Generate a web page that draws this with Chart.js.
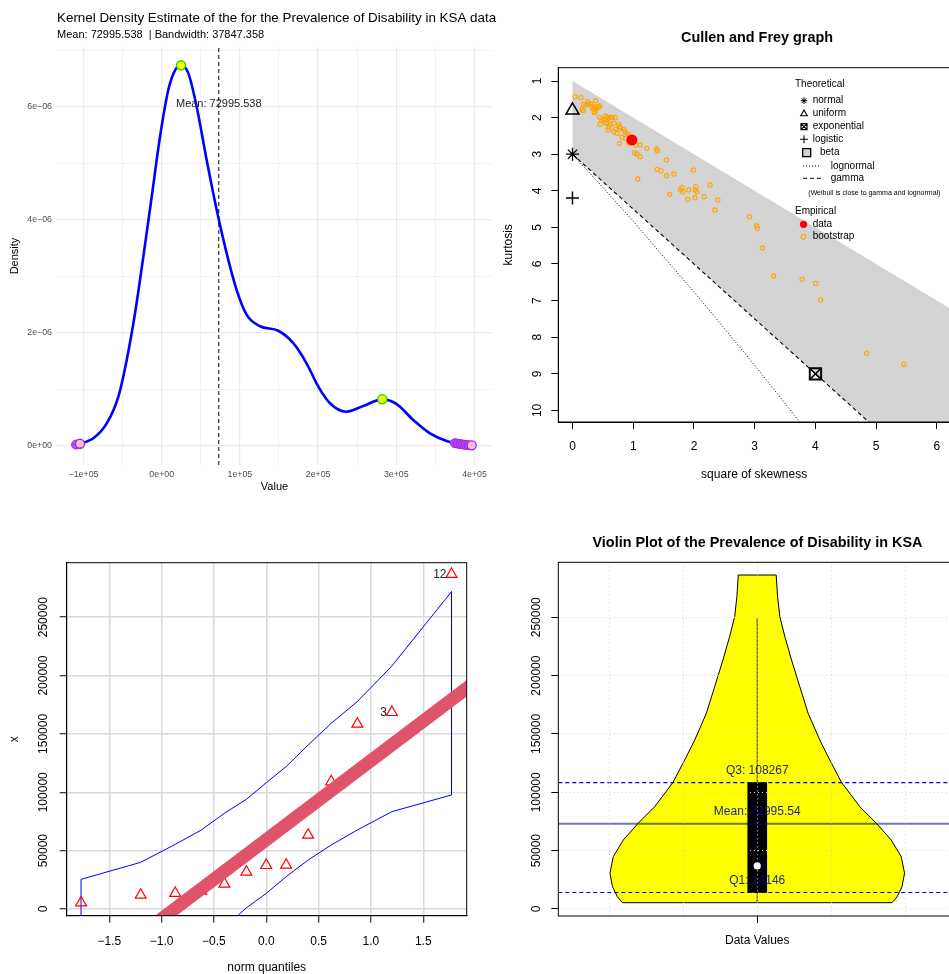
<!DOCTYPE html>
<html>
<head>
  <meta charset="utf-8">
  <title>Prevalence of Disability in KSA - distribution checks</title>
  <script src="https://cdn.jsdelivr.net/npm/chart.js"></script>
  <style>
    body { margin: 0; width: 949px; height: 974px; overflow: hidden; position: relative; background: #fff; }
    canvas { position: absolute; }
  </style>
</head>
<body>
  <canvas id="kde" width="500" height="500" style="left:0;top:0"></canvas>
  <canvas id="cf" width="460" height="500" style="left:500px;top:0"></canvas>
  <canvas id="qq" width="500" height="474" style="left:0;top:500px"></canvas>
  <canvas id="violin" width="460" height="474" style="left:500px;top:500px"></canvas>

  <script>
    const FONT = '"Liberation Sans", Arial, Helvetica, sans-serif';

    // ---- Kernel density panel ----
    const kdeX = [-108000, -87500, -70300, -55500, -44800, -34100, -23500, -12800, -2200, 8400, 17000, 24700, 34000, 44800, 57500, 70300, 83100, 95900, 108700, 125700, 149100, 168300, 185400, 200300, 215200, 235700, 257800, 282100, 300500, 321700, 343100, 364500, 381500, 396400];
    const kdeY = [0.025e-6, 0.136e-6, 0.40e-6, 0.87e-6, 1.52e-6, 2.35e-6, 3.35e-6, 4.41e-6, 5.47e-6, 6.30e-6, 6.65e-6, 6.74e-6, 6.60e-6, 6.00e-6, 5.06e-6, 4.18e-6, 3.41e-6, 2.76e-6, 2.32e-6, 2.12e-6, 2.04e-6, 1.82e-6, 1.46e-6, 1.05e-6, 0.756e-6, 0.607e-6, 0.708e-6, 0.826e-6, 0.743e-6, 0.46e-6, 0.225e-6, 0.088e-6, 0.035e-6, 0.012e-6];
    const kdePeakX = [24700, 282100];
    const kdePeakY = [6.74e-6, 0.826e-6];
    const kdeTailX = [-109500, 375000, 378500, 382000, 385500, 389000, 392500];
    const kdeTailY = [0.025e-6, 0.05e-6, 0.042e-6, 0.034e-6, 0.027e-6, 0.02e-6, 0.015e-6];
    const kdeEndX = [-104500, 396400];
    const kdeEndY = [0.04e-6, 0.012e-6];
    const kdeMean = 72995.538;
    const kdeBandwidth = 37847.358;
    const kdeXTicks = [-100000, 0, 100000, 200000, 300000, 400000];
    const kdeXLabels = ['\u22121e+05', '0e+00', '1e+05', '2e+05', '3e+05', '4e+05'];
    const kdeXMinor = [-50000, 50000, 150000, 250000, 350000];
    const kdeYTicks = [0, 2e-6, 4e-6, 6e-6];
    const kdeYLabels = ['0e+00', '2e\u221206', '4e\u221206', '6e\u221206'];
    const kdeYMinor = [1e-6, 3e-6, 5e-6, 7e-6];
    const kdeXMin = -133900, kdeXMax = 422400, kdeYMin = -0.336e-6, kdeYMax = 7.062e-6;

    // ---- Cullen and Frey panel ----
    const bootSkew2 = [0.043, 0.141, 0.178, 0.222, 0.249, 0.265, 0.303, 0.319, 0.346, 0.368, 0.384, 0.395, 0.427, 0.449, 0.157, 0.178, 0.357, 0.373, 0.449, 0.481, 0.519, 0.546, 0.573, 0.600, 0.627, 0.654, 0.708, 0.454, 0.546, 0.573, 0.600, 0.627, 0.681, 0.708, 0.762, 0.778, 0.589, 0.681, 0.735, 0.789, 0.843, 0.859, 0.897, 0.924, 0.816, 0.870, 0.773, 0.924, 1.005, 1.049, 1.113, 1.222, 1.384, 1.394, 1.022, 1.059, 1.113, 1.546, 1.394, 1.454, 1.546, 1.670, 1.989, 1.075, 2.265, 2.032, 1.800, 1.778, 1.816, 1.913, 2.021, 2.048, 1.600, 1.897, 2.016, 2.167, 2.394, 2.345, 2.913, 3.032, 3.043, 3.124, 3.313, 3.780, 4.005, 4.086, 4.843, 5.455];
    const bootKurt = [1.428, 1.455, 1.637, 1.656, 1.565, 1.628, 1.628, 1.701, 1.774, 1.747, 1.538, 1.701, 1.720, 1.683, 1.774, 1.810, 1.865, 1.838, 1.993, 2.066, 2.047, 1.956, 1.993, 2.020, 1.993, 2.002, 2.002, 2.184, 2.138, 2.157, 2.248, 2.184, 2.157, 2.320, 2.184, 2.248, 2.339, 2.384, 2.430, 2.293, 2.320, 2.384, 2.430, 2.475, 2.539, 2.567, 2.703, 2.703, 2.685, 2.749, 2.749, 2.840, 2.858, 2.903, 2.958, 2.995, 3.067, 3.158, 3.413, 3.450, 3.587, 3.541, 3.432, 3.678, 3.842, 3.887, 3.905, 3.978, 4.024, 3.978, 3.978, 4.024, 4.097, 4.233, 4.188, 4.160, 4.251, 4.525, 4.707, 4.953, 5.026, 5.563, 6.328, 6.420, 6.530, 6.980, 8.440, 8.740];
    const dataSkew2 = [0.978];
    const dataKurt = [2.61];
    const normalPt = [0, 3];
    const uniformPt = [0, 1.8];
    const logisticPt = [0, 4.2];
    const exponentialPt = [4, 9];
    const betaRegionX = [0, 6.5, 6.5, 0, 0];
    const betaRegionY = [1, 7.5, 12.75, 3, 1];
    const gammaX = [0, 6.5];
    const gammaY = [3, 12.75];
    const lognormX = [0, 0.5, 1, 1.5, 2, 2.5, 3, 3.5, 4];
    const lognormY = [3, 3.91, 4.83, 5.8, 6.76, 7.76, 8.77, 9.81, 10.86];
    const cfXTicks = [0, 1, 2, 3, 4, 5, 6];
    const cfXLabels = ['0', '1', '2', '3', '4', '5', '6'];
    const cfYTicks = [1, 2, 3, 4, 5, 6, 7, 8, 9, 10];
    const cfYLabels = ['1', '2', '3', '4', '5', '6', '7', '8', '9', '10'];

    // ---- Normal QQ panel ----
    const qqTheo = [-1.77, -1.2, -0.87, -0.62, -0.4, -0.19, 0, 0.19, 0.4, 0.62, 0.87, 1.2, 1.77];
    const qqSample = [5400, 12000, 13450, 15500, 21400, 31700, 37400, 37700, 63400, 109100, 158500, 168500, 286800];
    const qqIds = ['', '', '', '', '', '', '', '', '', '', '', '3', '12'];
    const qqUpper = [25400, 40000, 55400, 67700, 82000, 94000, 108200, 122000, 140500, 159100, 177700, 208200, 271900];
    const qqLower = [-160000, -90000, -55000, -33000, -16000, 1000, 13400, 27700, 42000, 54800, 67700, 83400, 97700];
    const qqLineX = [-1.95, 1.95];
    const qqLineY = [-72750, 191500];
    const qqXTicks = [-1.5, -1, -0.5, 0, 0.5, 1, 1.5];
    const qqXLabels = ['\u22121.5', '\u22121.0', '\u22120.5', '0.0', '0.5', '1.0', '1.5'];
    const valueTicks = [0, 50000, 100000, 150000, 200000, 250000];
    const valueLabels = ['0', '50000', '100000', '150000', '200000', '250000'];

    // ---- Violin panel ----
    const violinY = [5400, 10500, 19100, 30600, 44800, 59100, 73400, 87700, 108600, 127700, 144800, 167700, 190500, 213400, 233300, 250500, 267600, 286200];
    const violinHalfWidth = [0.364, 0.378, 0.391, 0.398, 0.389, 0.362, 0.322, 0.277, 0.2275, 0.196, 0.169, 0.1375, 0.115, 0.0927, 0.0747, 0.061, 0.055, 0.0512];
    const violinCategories = ['Data Values'];
    const violinCatX = [1];
    const violinGridX = [0.6, 0.8, 1, 1.2, 1.4];
    const vQ1 = 14146, vQ3 = 108267, vMean = 72995.54, vMedian = 36900;
    const vWhisker = [5400, 249448];

    Chart.defaults.font.family = FONT;
    Chart.defaults.color = '#000';
    Chart.defaults.plugins.legend.display = false;
    Chart.defaults.plugins.tooltip.enabled = false;

    const pts = (xs, ys) => xs.map((x, i) => ({ x, y: ys[i] }));
    const base = { responsive: false, animation: false, events: [] };
    const tickIn = (c, list) => !!(c.tick && list.includes(c.tick.value));

    function txt(ctx, s, x, y, font, opt = {}) {
      ctx.save();
      ctx.font = font;
      ctx.fillStyle = opt.color || '#000';
      ctx.textAlign = opt.align || 'center';
      ctx.textBaseline = opt.baseline || 'middle';
      ctx.translate(x, y);
      if (opt.rotate) ctx.rotate(opt.rotate);
      ctx.fillText(s, 0, 0);
      ctx.restore();
    }

    function mark(ctx, style, x, y, r, color, lw, fill) {
      ctx.save();
      ctx.strokeStyle = color; ctx.lineWidth = lw; ctx.fillStyle = fill || color;
      ctx.beginPath();
      if (style === 'circle') ctx.arc(x, y, r, 0, Math.PI * 2);
      if (style === 'triangle') { ctx.moveTo(x, y - r); ctx.lineTo(x + r * 0.866, y + r * 0.5); ctx.lineTo(x - r * 0.866, y + r * 0.5); ctx.closePath(); }
      if (style === 'rect' || style === 'rectx') ctx.rect(x - r, y - r, 2 * r, 2 * r);
      if (style === 'plus' || style === 'star') { ctx.moveTo(x - r, y); ctx.lineTo(x + r, y); ctx.moveTo(x, y - r); ctx.lineTo(x, y + r); }
      if (style === 'star' || style === 'rectx') { const d = r * 0.75; ctx.moveTo(x - d, y - d); ctx.lineTo(x + d, y + d); ctx.moveTo(x + d, y - d); ctx.lineTo(x - d, y + d); }
      if (fill) ctx.fill();
      ctx.stroke();
      ctx.restore();
    }

    // R style frame: full box and rotated y tick labels
    function rFrame(yTicks, yLabels, gap) {
      return {
        id: 'rFrame',
        afterDraw(chart) {
          const { ctx, chartArea: a, scales: { y } } = chart;
          ctx.save();
          ctx.strokeStyle = '#000'; ctx.lineWidth = 1;
          ctx.strokeRect(a.left, a.top, a.right - a.left, a.bottom - a.top);
          ctx.restore();
          yTicks.forEach((v, i) => txt(ctx, yLabels[i], a.left - gap, y.getPixelForValue(v), '12px ' + FONT, { rotate: -Math.PI / 2 }));
        }
      };
    }

    function rScale(min, max, ticks, labels, fitKey, fitVal, extra, pad) {
      const s = {
        type: 'linear', min, max, offset: false,
        afterBuildTicks: sc => { sc.ticks = ticks.map(v => ({ value: v })); },
        afterFit: sc => { sc[fitKey] = fitVal; },
        ticks: labels ? { autoSkip: false, maxRotation: 0, padding: pad || 9, font: { size: 12 }, callback: (v, i) => labels[i] } : { display: false },
        grid: { drawOnChartArea: false, drawTicks: true, tickLength: 7, tickColor: '#000', tickWidth: 1, offset: false },
        border: { color: '#000', width: 1 }
      };
      return Object.assign(s, extra || {});
    }

    // ---------- KDE ----------
    new Chart(document.getElementById('kde'), {
      type: 'scatter',
      data: {
        datasets: [
          { data: pts(kdePeakX, kdePeakY), pointRadius: 4.5, backgroundColor: '#ffff00', borderColor: '#22dd00', borderWidth: 1.5 },
          { data: pts(kdeEndX, kdeEndY), pointRadius: 4.5, backgroundColor: '#ffc0cb', borderColor: '#a020f0', borderWidth: 1.3 },
          { data: pts(kdeTailX, kdeTailY), pointRadius: 4.5, backgroundColor: '#b04ee8', borderColor: '#a020f0', borderWidth: 1 },
          { type: 'line', data: pts(kdeX, kdeY), borderColor: '#0000ff', borderWidth: 2.6, pointRadius: 0, cubicInterpolationMode: 'monotone' },
          { type: 'line', data: [{ x: kdeMean, y: kdeYMin }, { x: kdeMean, y: kdeYMax }], borderColor: '#000', borderWidth: 1, borderDash: [4, 3], pointRadius: 0 }
        ]
      },
      options: {
        ...base,
        layout: { padding: { left: 0, top: 47, right: 8, bottom: 0 } },
        scales: {
          x: {
            type: 'linear', min: kdeXMin, max: kdeXMax,
            afterBuildTicks: s => { s.ticks = kdeXTicks.concat(kdeXMinor).map(v => ({ value: v })); },
            afterFit: s => { s.height = 35; },
            ticks: { autoSkip: false, maxRotation: 0, padding: 4.5, color: '#4d4d4d', font: { size: 8.8 },
                     callback: v => { const i = kdeXTicks.indexOf(v); return i < 0 ? '' : kdeXLabels[i]; } },
            grid: { color: '#ebebeb', lineWidth: c => tickIn(c, kdeXTicks) ? 1.2 : 0.6, drawTicks: false },
            border: { display: false }
          },
          y: {
            type: 'linear', min: kdeYMin, max: kdeYMax,
            afterBuildTicks: s => { s.ticks = kdeYTicks.concat(kdeYMinor).map(v => ({ value: v })); },
            afterFit: s => { s.width = 57; },
            ticks: { autoSkip: false, padding: 5, color: '#4d4d4d', font: { size: 8.8 },
                     callback: v => { const i = kdeYTicks.indexOf(v); return i < 0 ? '' : kdeYLabels[i]; } },
            grid: { color: '#ebebeb', lineWidth: c => tickIn(c, kdeYTicks) ? 1.2 : 0.6, drawTicks: false },
            border: { display: false }
          }
        }
      },
      plugins: [{
        id: 'kdeText',
        afterDraw(chart) {
          const { ctx, chartArea: a, scales: { x, y } } = chart;
          txt(ctx, 'Kernel Density Estimate of the for the Prevalence of Disability in KSA data', a.left, 18, '13.4px ' + FONT, { align: 'left' });
          txt(ctx, 'Mean: ' + kdeMean.toFixed(3) + '  | Bandwidth: ' + kdeBandwidth.toFixed(3), a.left, 35, '11px ' + FONT, { align: 'left' });
          txt(ctx, 'Mean: ' + kdeMean.toFixed(3), x.getPixelForValue(kdeMean), y.getPixelForValue(6.05e-6), '11px ' + FONT, { color: '#222' });
          txt(ctx, 'Value', (a.left + a.right) / 2, 487, '11px ' + FONT);
          txt(ctx, 'Density', 15, (a.top + a.bottom) / 2, '11px ' + FONT, { rotate: -Math.PI / 2 });
        }
      }]
    });

    // ---------- Cullen and Frey ----------
    new Chart(document.getElementById('cf'), {
      type: 'scatter',
      data: {
        datasets: [
          { data: pts(dataSkew2, dataKurt), pointRadius: 5.5, backgroundColor: '#ff0000', borderWidth: 0 },
          { data: pts(bootSkew2, bootKurt), pointRadius: 2.1, backgroundColor: 'rgba(0,0,0,0)', borderColor: '#ffa500', borderWidth: 1.1 },
          { data: [{ x: normalPt[0], y: normalPt[1] }], pointStyle: 'star', pointRadius: 6.5, borderColor: '#000', borderWidth: 1.3 },
          { data: [{ x: uniformPt[0], y: uniformPt[1] }], pointStyle: 'triangle', pointRadius: 7.5, backgroundColor: 'rgba(0,0,0,0)', borderColor: '#000', borderWidth: 1.5 },
          { data: [{ x: logisticPt[0], y: logisticPt[1] }], pointStyle: 'cross', pointRadius: 6.5, borderColor: '#000', borderWidth: 1.5 },
          { data: [{ x: exponentialPt[0], y: exponentialPt[1] }], pointStyle: 'crossRot', pointRadius: 6.5, borderColor: '#000', borderWidth: 1.5 },
          { data: [{ x: exponentialPt[0], y: exponentialPt[1] }], pointStyle: 'rect', pointRadius: 8, backgroundColor: 'rgba(0,0,0,0)', borderColor: '#000', borderWidth: 2 },
          { type: 'line', data: pts(lognormX, lognormY), borderColor: '#000', borderWidth: 1, borderDash: [1, 2], pointRadius: 0, tension: 0 },
          { type: 'line', data: pts(gammaX, gammaY), borderColor: '#000', borderWidth: 1.1, borderDash: [4, 3], pointRadius: 0 },
          { type: 'line', data: pts(betaRegionX, betaRegionY), fill: 'shape', backgroundColor: '#d3d3d3', borderWidth: 0, pointRadius: 0 }
        ]
      },
      options: {
        ...base,
        layout: { padding: { left: 0, top: 67.7, right: 4, bottom: 0 } },
        scales: {
          x: rScale(-0.2335, 6.215, cfXTicks, cfXLabels, 'height', 78, null, 10),
          y: rScale(0.6366, 10.317, cfYTicks, null, 'width', 58.3, { reverse: true })
        }
      },
      plugins: [rFrame(cfYTicks, cfYLabels, 20.5), {
        id: 'cfText',
        afterDraw(chart) {
          const { ctx, chartArea: a } = chart;
          const f = '10px ' + FONT;
          txt(ctx, 'Cullen and Frey graph', 257, 38.3, 'bold 14.4px ' + FONT);
          txt(ctx, 'square of skewness', (a.left + a.right) / 2, 475, '12px ' + FONT);
          txt(ctx, 'kurtosis', 8.5, (a.top + a.bottom) / 2, '12px ' + FONT, { rotate: -Math.PI / 2 });
          txt(ctx, 'Theoretical', 295, 84, f, { align: 'left' });
          mark(ctx, 'star', 304, 100.7, 3.3, '#000', 1);
          txt(ctx, 'normal', 312.7, 100.7, f, { align: 'left' });
          mark(ctx, 'triangle', 304, 113.8, 3.8, '#000', 1.1);
          txt(ctx, 'uniform', 312.7, 113.3, f, { align: 'left' });
          mark(ctx, 'rectx', 304, 126.7, 3, '#000', 1.2);
          txt(ctx, 'exponential', 312.7, 126.7, f, { align: 'left' });
          mark(ctx, 'plus', 304, 139.3, 4, '#000', 1.1);
          txt(ctx, 'logistic', 312.7, 139.3, f, { align: 'left' });
          mark(ctx, 'rect', 306.7, 152.7, 4, '#000', 1.3, '#d3d3d3');
          txt(ctx, 'beta', 320, 152.7, f, { align: 'left' });
          ctx.save();
          ctx.strokeStyle = '#000'; ctx.lineWidth = 1;
          ctx.setLineDash([1, 2]);
          ctx.beginPath(); ctx.moveTo(303, 166); ctx.lineTo(321, 166); ctx.stroke();
          ctx.setLineDash([4, 3]);
          ctx.beginPath(); ctx.moveTo(303, 178.3); ctx.lineTo(321, 178.3); ctx.stroke();
          ctx.restore();
          txt(ctx, 'lognormal', 330.7, 166, f, { align: 'left' });
          txt(ctx, 'gamma', 330.7, 178.3, f, { align: 'left' });
          txt(ctx, '(Weibull is close to gamma and lognormal)', 308.3, 192.7, '7px ' + FONT, { align: 'left' });
          txt(ctx, 'Empirical', 295, 211.7, f, { align: 'left' });
          mark(ctx, 'circle', 303.5, 224.3, 3.6, '#ff0000', 0.1, '#ff0000');
          txt(ctx, 'data', 312.7, 224.3, f, { align: 'left' });
          mark(ctx, 'circle', 303.5, 236.7, 2.4, '#ffa500', 1.1);
          txt(ctx, 'bootstrap', 312.7, 236.7, f, { align: 'left' });
        }
      }]
    });

    // ---------- Normal QQ ----------
    const qqEnvX = qqTheo.concat(qqTheo.slice().reverse(), [qqTheo[0]]);
    const qqEnvY = qqUpper.concat(qqLower.slice().reverse(), [qqUpper[0]]);
    const qqGrid = { drawOnChartArea: true, drawTicks: true, tickLength: 7, tickColor: '#000', tickWidth: 1, color: '#d9d9d9', lineWidth: 1.5 };
    new Chart(document.getElementById('qq'), {
      type: 'scatter',
      data: {
        datasets: [
          { type: 'line', data: pts(qqLineX, qqLineY), borderColor: '#df536b', borderWidth: 13, pointRadius: 0, clip: 0 },
          { data: pts(qqTheo, qqSample), pointStyle: 'triangle', pointRadius: 6.3, backgroundColor: 'rgba(0,0,0,0)', borderColor: '#ff0000', borderWidth: 1.2 },
          { type: 'line', data: pts(qqEnvX, qqEnvY), borderColor: '#0000ff', borderWidth: 1, pointRadius: 0, clip: 0 }
        ]
      },
      options: {
        ...base,
        layout: { padding: { left: 0, top: 62.7, right: 33.3, bottom: 0 } },
        scales: {
          x: rScale(-1.907, 1.915, qqXTicks, qqXLabels, 'height', 58.3, { grid: qqGrid }, 11.5),
          y: rScale(-5740, 296700, valueTicks, null, 'width', 66.7, { grid: qqGrid })
        }
      },
      plugins: [rFrame(valueTicks, valueLabels, 23.5), {
        id: 'qqText',
        afterDraw(chart) {
          const { ctx, chartArea: a, scales: { x, y } } = chart;
          qqIds.forEach((id, i) => {
            if (id) txt(ctx, id, x.getPixelForValue(qqTheo[i]) - 5, y.getPixelForValue(qqSample[i]), '12px ' + FONT, { align: 'right', color: '#222' });
          });
          txt(ctx, 'norm quantiles', (a.left + a.right) / 2, 468, '12px ' + FONT);
          txt(ctx, 'x', 15, (a.top + a.bottom) / 2, '12px ' + FONT, { rotate: -Math.PI / 2 });
        }
      }]
    });

    // ---------- Violin ----------
    const vLeft = violinY.map((y, i) => ({ x: violinCatX[0] - violinHalfWidth[i], y }));
    const vRight = violinY.map((y, i) => ({ x: violinCatX[0] + violinHalfWidth[i], y })).reverse();
    const violinOutline = vLeft.concat(vRight, [vLeft[0]]);
    const vXMin = 0.4625, vXMax = 1.537;
    const dotted = { color: '#d0d0d0', lineWidth: 1, drawOnChartArea: true, drawTicks: true, tickLength: 7, tickWidth: 1, z: 1, offset: false };
    new Chart(document.getElementById('violin'), {
      type: 'scatter',
      data: {
        datasets: [
          { data: [{ x: violinCatX[0], y: vMedian }], pointRadius: 3.6, backgroundColor: '#ffffff', borderWidth: 0 },
          { type: 'line', data: [{ x: vXMin, y: vMean }, { x: vXMax, y: vMean }], borderColor: 'rgba(0,0,128,0.55)', borderWidth: 2, pointRadius: 0 },
          { type: 'bar', data: [{ x: violinCatX[0], y: [vQ1, vQ3] }], backgroundColor: '#000', barThickness: 19, borderWidth: 0 },
          { type: 'line', data: [{ x: violinCatX[0], y: vWhisker[0] }, { x: violinCatX[0], y: vWhisker[1] }], borderColor: '#555', borderWidth: 1.2, pointRadius: 0 },
          { type: 'line', data: [{ x: vXMin, y: vQ3 }, { x: vXMax, y: vQ3 }], borderColor: '#0000cd', borderWidth: 1.2, borderDash: [4, 3], pointRadius: 0 },
          { type: 'line', data: [{ x: vXMin, y: vQ1 }, { x: vXMax, y: vQ1 }], borderColor: '#0000cd', borderWidth: 1.2, borderDash: [4, 3], pointRadius: 0 },
          { type: 'line', data: violinOutline, fill: 'shape', backgroundColor: '#ffff00', borderColor: '#000', borderWidth: 1, pointRadius: 0, tension: 0 }
        ]
      },
      options: {
        ...base,
        layout: { padding: { left: 0, top: 62.3, right: 3, bottom: 0 } },
        scales: {
          x: rScale(vXMin, vXMax, violinGridX, null, 'height', 58, {
            ticks: { autoSkip: false, maxRotation: 0, padding: 10, font: { size: 12 },
                     callback: v => { const i = violinCatX.indexOf(v); return i < 0 ? '' : violinCategories[i]; } },
            grid: Object.assign({}, dotted, { tickColor: c => tickIn(c, violinCatX) ? '#000' : 'rgba(0,0,0,0)' }),
            border: { display: false, dash: [1, 3] }
          }),
          y: rScale(-6000, 297100, valueTicks, null, 'width', 58.3, {
            grid: Object.assign({}, dotted, { tickColor: '#000' }),
            border: { display: false, dash: [1, 3] }
          })
        }
      },
      plugins: [rFrame(valueTicks, valueLabels, 22), {
        id: 'violinText',
        afterDraw(chart) {
          const { ctx, scales: { x, y } } = chart;
          const cx = x.getPixelForValue(violinCatX[0]);
          const f = '12px ' + FONT;
          const c = { color: 'rgba(10,10,140,0.9)' };
          txt(ctx, 'Violin Plot of the Prevalence of Disability in KSA', 257.5, 43.3, 'bold 14.4px ' + FONT);
          txt(ctx, 'Q3: ' + vQ3, cx, y.getPixelForValue(vQ3) - 12, f, c);
          txt(ctx, 'Mean: ' + vMean.toFixed(2), cx, y.getPixelForValue(vMean) - 12, f, c);
          txt(ctx, 'Q1: ' + vQ1, cx, y.getPixelForValue(vQ1) - 12, f, c);
        }
      }]
    });
  </script>
</body>
</html>
